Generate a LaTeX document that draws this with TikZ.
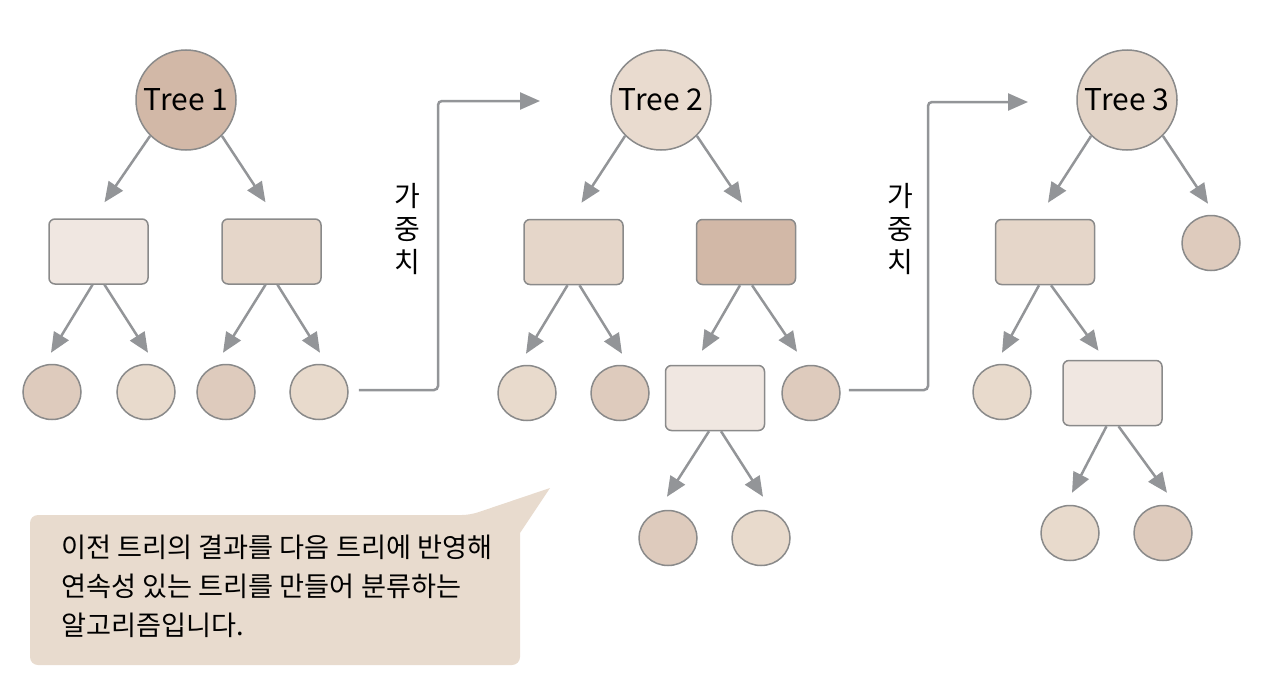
\documentclass[tikz,border=0pt]{standalone}
\usepackage{fontspec}
\setmainfont{Noto Sans CJK KR}
\usetikzlibrary{arrows.meta,calc,shapes.geometric}
\definecolor{cdark}{HTML}{D2B8A7}
\definecolor{cmed}{HTML}{E5D6C9}
\definecolor{clight}{HTML}{F0E7E1}
\definecolor{lfdark}{HTML}{DECBBD}
\definecolor{lflight}{HTML}{E8DACC}
\definecolor{rtwo}{HTML}{E9DBCF}
\definecolor{rthree}{HTML}{E3D4C7}
\definecolor{edgec}{HTML}{8A8A8A}
\definecolor{arrc}{HTML}{939598}
\definecolor{callc}{HTML}{E8DBCE}
\tikzset{
  rootn/.style={circle, draw=edgec, line width=0.75pt, minimum size=50pt, inner sep=0pt, font=\fontsize{15}{18}\selectfont},
  boxn/.style={rectangle, rounded corners=3pt, draw=edgec, line width=0.75pt, minimum width=49.5pt, minimum height=32.5pt, inner sep=0pt},
  leafn/.style={ellipse, draw=edgec, line width=0.75pt, minimum width=29pt, minimum height=27.5pt, inner sep=0pt},
  arr/.style={draw=arrc, line width=1.25pt, -{Triangle[length=10pt,width=8.5pt]}},
  wlabel/.style={font=\fontsize{14}{16.5}\selectfont, align=center, inner sep=0pt},
}
\begin{document}
\begin{tikzpicture}[x=0.5pt,y=-0.5pt]
\useasboundingbox (0,0) rectangle (1280,685);
% callout
\fill[callc, rounded corners=4pt] (30,515) -- (470,515) [sharp corners] -- (550,488) -- (520,533) [rounded corners=4pt] -- (520,665) -- (30,665) -- cycle;
\node[anchor=north west, align=left, inner sep=0pt, font=\fontsize{13.6}{19.5}\selectfont] (note) at (61,535) {이전 트리의 결과를 다음 트리에 반영해\\연속성 있는 트리를 만들어 분류하는\\알고리즘입니다.};
% Tree 1
\node[rootn, fill=cdark] (r1) at (186,100) {Tree 1};
\node[boxn, fill=clight] (b11) at (98.5,251.5) {};
\node[boxn, fill=cmed] (b12) at (271.5,251.5) {};
\node[leafn, fill=lfdark] (l11) at (52,392) {};
\node[leafn, fill=lflight] (l12) at (146,392) {};
\node[leafn, fill=lfdark] (l13) at (226,392) {};
\node[leafn, fill=lflight] (l14) at (319,392) {};
\draw[arr] (r1.225) -- ($(b11.north)+(6,-16)$);
\draw[arr] (r1.-45) -- ($(b12.north)+(-6,-16)$);
\draw[arr] ($(b11.south)+(-6,0)$) -- ($(l11.north)+(-1,-11)$);
\draw[arr] ($(b11.south)+(6,0)$) -- ($(l12.north)+(2,-11)$);
\draw[arr] ($(b12.south)+(-6,0)$) -- ($(l13.north)+(-3,-11)$);
\draw[arr] ($(b12.south)+(6,0)$) -- ($(l14.north)+(1,-11)$);
% Tree 2
\node[rootn, fill=rtwo] (r2) at (661,100) {Tree 2};
\node[boxn, fill=cmed] (b21) at (573.5,252) {};
\node[boxn, fill=cdark] (b22) at (746,252) {};
\node[leafn, fill=lflight] (l21) at (527,393) {};
\node[leafn, fill=lfdark] (l22) at (620,393) {};
\node[boxn, fill=clight] (b23) at (715,398) {};
\node[leafn, fill=lfdark] (l24) at (811,393) {};
\node[leafn, fill=lfdark] (l25) at (668,538) {};
\node[leafn, fill=lflight] (l26) at (761,538) {};
\draw[arr] (r2.225) -- ($(b21.north)+(8,-16)$);
\draw[arr] (r2.-45) -- ($(b22.north)+(-4,-16)$);
\draw[arr] ($(b21.south)+(-6,0)$) -- ($(l21.north)+(-1,-11)$);
\draw[arr] ($(b21.south)+(6,0)$) -- ($(l22.north)+(2,-11)$);
\draw[arr] ($(b22.south)+(-6,0)$) -- ($(b23.north)+(-13,-14)$);
\draw[arr] ($(b22.south)+(6,0)$) -- ($(l24.north)+(-14,-13)$);
\draw[arr] ($(b23.south)+(-6,0)$) -- ($(l25.north)+(-1,-13)$);
\draw[arr] ($(b23.south)+(6,0)$) -- ($(l26.north)+(2,-13)$);
% Tree 3
\node[rootn, fill=rthree] (r3) at (1127,100) {Tree 3};
\node[boxn, fill=cmed] (b31) at (1045,252) {};
\node[leafn, fill=lfdark] (l31) at (1211,243) {};
\node[leafn, fill=lflight] (l32) at (1002,392) {};
\node[boxn, fill=clight] (b32) at (1112.5,393) {};
\node[leafn, fill=lflight] (l33) at (1070,533) {};
\node[leafn, fill=lfdark] (l34) at (1163,533) {};
\draw[arr] (r3.225) -- ($(b31.north)+(3,-16)$);
\draw[arr] (r3.-45) -- ($(l31.north)+(-3,-11)$);
\draw[arr] ($(b31.south)+(-6,0)$) -- ($(l32.north)+(0,-11)$);
\draw[arr] ($(b31.south)+(6,0)$) -- ($(b32.north)+(-14,-9)$);
\draw[arr] ($(b32.south)+(-6,0)$) -- ($(l33.north)+(2,-12)$);
\draw[arr] ($(b32.south)+(6,0)$) -- ($(l34.north)+(4,-12)$);
% weight connectors
\coordinate (t1) at (540,101);
\coordinate (t2) at (1028,102);
\draw[arr, rounded corners=2pt] ($(l14.east)+(10,-2)$) -- (438,390) -- (438,101) -- (t1);
\draw[arr, rounded corners=2pt] ($(l24.east)+(8,-3)$) -- (928,390) -- (928,102) -- (t2);
\node[wlabel] (w1) at (407,229) {가\\중\\치};
\node[wlabel] (w2) at (900,229) {가\\중\\치};
\end{tikzpicture}
\end{document}
